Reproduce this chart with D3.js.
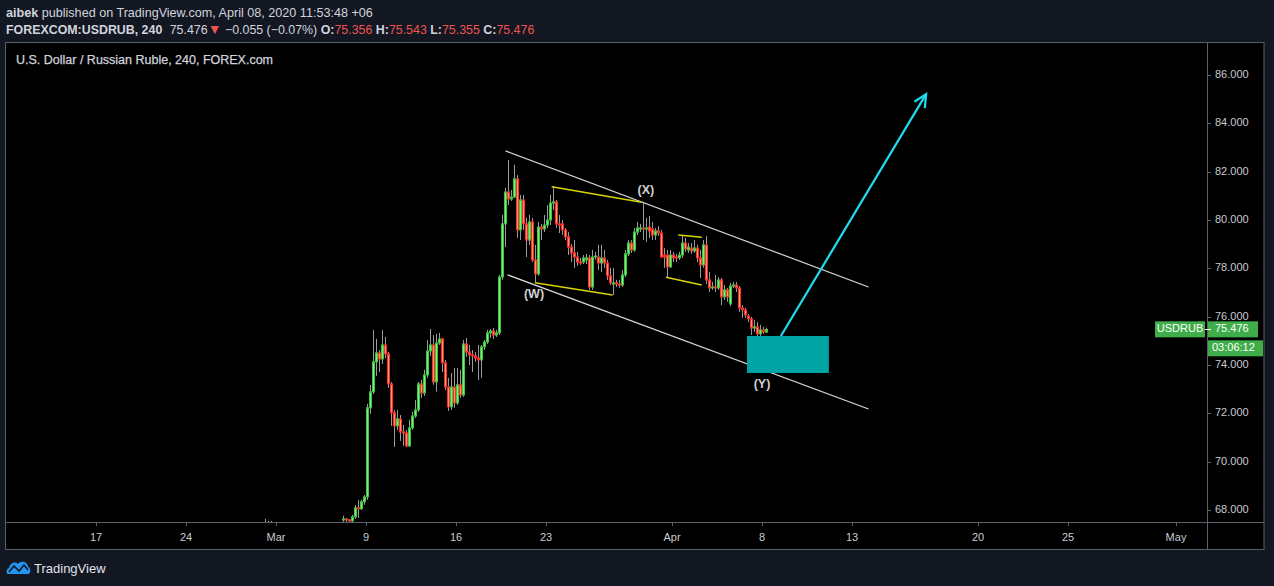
<!DOCTYPE html>
<html><head><meta charset="utf-8">
<script src="https://cdn.jsdelivr.net/npm/d3@7"></script>
<style>
html,body{margin:0;padding:0;background:#131722;overflow:hidden;}
svg{display:block;}
</style></head><body>
<svg id="c" width="1274" height="586"></svg>
<script>
// ---------- data ----------
const tickLabels = ["17","24","Mar","9","16","23","Apr","8","13","20","25","May"];
const tickBars   = [0,30,60,90,120,150,192,222,252,294,324,360];
const priceTicks = [68,70,72,74,76,78,80,82,84,86];
const barIdx = [56,57,58].concat(d3.range(82,224));
const open = [67.30,67.35,67.30,
67.59,67.63,67.59,67.55,67.72,68.09,68.05,68.34,68.54,72.23,72.89,74.13,74.50,74.25,74.83,74.46,73.22,72.02,71.48,71.77,71.23,71.19,70.65,71.40,71.89,72.14,73.22,72.84,73.59,74.58,74.83,73.30,74.91,75.08,74.09,73.09,72.27,73.09,72.43,73.18,72.76,74.87,74.54,74.42,74.38,74.29,74.21,74.75,74.95,75.33,75.41,75.24,
75.33,77.64,79.84,81.16,80.87,80.95,81.70,79.59,80.83,79.84,79.17,79.92,78.35,77.77,79.71,79.63,79.79,80.00,80.70,80.75,79.84,79.84,79.59,79.30,78.88,78.64,78.47,78.26,78.26,78.35,
78.43,77.23,78.47,78.47,78.22,78.43,78.22,77.69,77.35,77.40,77.35,77.31,77.73,78.60,79.05,78.76,79.50,79.63,79.67,
79.63,79.71,79.63,79.38,79.55,79.46,78.55,78.55,78.06,78.55,78.47,78.43,78.55,79.05,78.76,78.84,78.72,78.84,78.43,78.14,78.97,77.52,77.19,77.23,77.19,77.52,76.82,77.11,76.53,77.27,77.31,77.19,76.36,76.28,76.03,75.91,75.53,75.58,75.29,75.45,75.356];
const high = [67.63,67.55,67.55,
67.76,67.67,67.63,67.80,68.21,68.42,68.42,68.62,72.39,73.18,75.45,75.08,74.62,75.45,75.16,74.54,73.30,72.14,72.14,71.93,71.52,71.31,71.73,72.06,72.55,73.30,73.38,73.80,75.04,75.49,75.24,75.29,75.33,75.12,74.21,73.47,73.67,73.88,73.88,73.80,75.04,75.12,74.83,74.62,74.54,74.83,74.83,75.04,75.45,75.49,75.53,75.45,
77.73,80.21,81.33,82.48,81.24,82.28,81.86,81.04,81.04,80.09,80.21,80.09,78.97,79.92,79.84,80.21,80.62,81.04,81.41,80.83,80.21,80.00,79.67,79.50,79.01,79.17,78.68,78.43,78.55,78.60,
78.55,78.76,78.68,78.97,78.97,78.76,78.35,78.02,78.02,77.52,77.52,77.93,78.76,79.17,79.17,79.67,79.92,79.84,80.75,
80.09,80.17,79.92,79.67,79.75,79.59,78.84,78.76,78.76,78.68,78.60,78.68,79.38,79.26,79.05,79.05,79.17,78.97,78.76,79.17,79.34,77.85,77.44,77.73,77.64,77.60,77.31,77.19,77.40,77.44,77.44,77.27,76.48,76.36,76.11,75.99,75.86,75.78,75.66,75.58,75.543];
const low = [67.10,67.20,67.15,
67.51,67.51,67.47,67.47,67.63,67.67,68.00,68.21,68.42,71.98,72.80,73.55,73.71,74.04,74.29,73.05,71.48,70.61,71.31,70.86,70.65,70.61,70.61,71.31,71.81,72.06,72.64,72.72,73.47,74.38,73.18,72.89,74.83,73.71,72.97,72.10,72.14,72.23,72.35,72.64,72.68,74.33,74.00,73.71,74.13,73.38,73.47,74.62,74.87,75.12,75.08,75.16,
75.24,77.52,78.88,80.62,80.79,80.91,79.26,79.17,79.59,78.47,78.97,78.26,77.40,77.69,79.17,79.50,79.67,79.79,80.42,79.67,79.46,79.38,79.17,78.55,78.26,78.02,78.10,78.14,78.18,78.18,
77.11,77.11,78.35,77.93,77.85,78.02,77.52,77.31,76.90,77.23,77.19,77.23,77.64,78.51,78.64,78.68,79.38,79.50,79.17,
79.09,79.26,79.17,79.17,79.34,78.43,78.02,77.64,78.02,78.26,78.26,78.35,78.43,78.68,78.64,78.60,78.64,78.26,77.60,78.02,77.35,77.02,77.11,77.02,77.11,76.48,76.69,76.61,76.44,77.19,77.02,76.20,75.95,75.95,75.78,75.24,75.37,75.20,75.16,75.29,75.355];
const close = [67.35,67.30,67.40,
67.63,67.59,67.55,67.72,68.09,68.05,68.34,68.54,72.23,72.89,74.13,74.50,74.25,74.83,74.46,73.22,72.02,71.48,71.77,71.23,71.19,70.65,71.40,71.89,72.14,73.22,72.84,73.59,74.58,74.83,73.30,74.91,75.08,74.09,73.09,72.27,73.09,72.43,73.18,72.76,74.87,74.54,74.42,74.38,74.29,74.21,74.75,74.95,75.33,75.41,75.24,75.33,
77.64,79.84,81.16,80.87,80.95,81.70,79.59,80.83,79.84,79.17,79.92,78.35,77.77,79.71,79.63,79.79,80.00,80.70,80.75,79.84,79.79,79.59,79.30,78.88,78.64,78.47,78.26,78.22,78.43,78.43,
77.23,78.47,78.51,78.22,78.43,78.22,77.69,77.40,77.40,77.35,77.31,77.73,78.60,79.05,78.76,79.50,79.67,79.67,79.63,
79.67,79.55,79.38,79.55,79.46,78.47,78.47,78.06,78.55,78.43,78.43,78.55,79.05,78.80,78.88,78.72,78.84,78.43,78.14,78.97,77.52,77.19,77.23,77.19,77.52,76.82,77.11,76.82,77.27,77.31,77.19,76.36,76.28,76.07,75.91,75.53,75.58,75.29,75.45,75.37,75.476];

// drawings: [bar, price]
const channelUpper = [[136.5,82.86],[257.5,77.23]];
const channelLower = [[137.2,77.73],[257.5,72.18]];
const yellowLines = [
  [[151.9,81.38],[181.9,80.73]],
  [[146.3,77.40],[172.2,76.90]],
  [[194.1,79.38],[201.9,79.29]],
  [[190.0,77.63],[201.9,77.31]]
];
const waveLabels = ["(W)","(X)","(Y)"];
const waveBars   = [146,183.3,222];
const wavePrices = [76.90,81.20,73.18];
const targetBox  = [[217,75.20],[244.3,73.67]];
const arrowLine  = [[228.3,75.20],[276.7,85.21]];
const lastPrice = 75.476;

// ---------- layout ----------
const svg = d3.select("#c");
const L = 6, R = 1207, T = 42, B = 522, FR = 1264, FB = 549;
const x = d3.scaleLinear().domain([-30, (R-96)/3]).range([L, R]);
const y = d3.scaleLinear().domain([68, 86]).range([510, 75]);
const font = "'Liberation Sans', Arial, sans-serif";

svg.append("rect").attr("width",1274).attr("height",586).attr("fill","#131722");
svg.append("rect").attr("x",L).attr("y",T).attr("width",FR-L).attr("height",FB-T).attr("fill","#000");

// header
const h1 = svg.append("text").attr("x",6).attr("y",17).attr("font-family",font).attr("font-size",12.6).attr("fill","#d1d4dc");
h1.append("tspan").attr("font-weight","bold").text("aibek");
h1.append("tspan").text(" published on TradingView.com, April 08, 2020 11:53:48 +06");
const h2 = svg.append("text").attr("x",6).attr("y",34).attr("font-family",font).attr("font-size",12.4).attr("fill","#d1d4dc");
h2.append("tspan").attr("font-weight","bold").text("FOREXCOM:USDRUB, 240");
h2.append("tspan").attr("dx",4).text(" 75.476");
h2.append("tspan").attr("fill","#ef5350").attr("font-size",14).text("▼");
h2.append("tspan").text(" −0.055 (−0.07%) ");
[["O:","75.356"],["H:","75.543"],["L:","75.355"],["C:","75.476"]].forEach(([k,v],i)=>{
  h2.append("tspan").attr("font-weight","bold").text((i? " ":"")+k);
  h2.append("tspan").attr("fill","#ef5350").text(v);
});

svg.append("text").attr("x",16).attr("y",64).attr("font-family",font).attr("font-size",12.5)
  .attr("fill","#d1d4dc").attr("stroke","#d1d4dc").attr("stroke-width",0.25).text("U.S. Dollar / Russian Ruble, 240, FOREX.com");

// clip
svg.append("clipPath").attr("id","plot").append("rect").attr("x",L).attr("y",T).attr("width",R-L).attr("height",B-T);
const g = svg.append("g").attr("clip-path","url(#plot)");

// candles
const bars = barIdx.map((b,i)=>({b, o:open[i], h:high[i], l:low[i], c:close[i]}));
g.selectAll("line.wick").data(bars).join("line")
  .attr("x1",d=>x(d.b)+1.5).attr("x2",d=>x(d.b)+1.5)
  .attr("y1",d=>y(d.h)).attr("y2",d=>y(d.l))
  .attr("stroke","#9a9a9a").attr("stroke-width",1);
g.selectAll("rect.body").data(bars).join("rect")
  .attr("x",d=>x(d.b)+0.5).attr("width",2)
  .attr("y",d=>Math.min(y(d.o),y(d.c)))
  .attr("height",d=>Math.max(1,Math.abs(y(d.o)-y(d.c))))
  .attr("fill",d=>d.c>=d.o?"#7cf07c":"#ff9a6a")
  .attr("stroke",d=>d.c>=d.o?"#3ec43e":"#ff2a2a").attr("stroke-width",1);

// drawings
const line = d3.line().x(d=>x(d[0])).y(d=>y(d[1]));
[channelUpper, channelLower].forEach(p=>g.append("path").attr("d",line(p)).attr("stroke","#d8d8d8").attr("stroke-width",1.2).attr("fill","none"));
yellowLines.forEach(p=>g.append("path").attr("d",line(p)).attr("stroke","#d6d600").attr("stroke-width",1.5).attr("fill","none"));
g.append("rect").attr("x",x(targetBox[0][0])).attr("y",y(targetBox[0][1]))
  .attr("width",x(targetBox[1][0])-x(targetBox[0][0])).attr("height",y(targetBox[1][1])-y(targetBox[0][1]))
  .attr("fill","#00a3a3");
g.append("path").attr("d",line(arrowLine)).attr("stroke","#1fdcf0").attr("stroke-width",2.2).attr("fill","none");
{
  const x0=x(arrowLine[0][0]), y0=y(arrowLine[0][1]), x1=x(arrowLine[1][0]), y1=y(arrowLine[1][1]);
  const a = Math.atan2(y1-y0, x1-x0), len=14, sp=0.45;
  const p1=[x1-len*Math.cos(a-sp), y1-len*Math.sin(a-sp)], p2=[x1-len*Math.cos(a+sp), y1-len*Math.sin(a+sp)];
  g.append("path").attr("d",`M${p1}L${x1},${y1}L${p2}`).attr("stroke","#1fdcf0").attr("stroke-width",2.2).attr("fill","none");
}
g.selectAll("text.wave").data(waveLabels).join("text")
  .attr("x",(d,i)=>x(waveBars[i])).attr("y",(d,i)=>y(wavePrices[i]))
  .attr("text-anchor","middle").attr("dominant-baseline","middle")
  .attr("font-family",font).attr("font-size",12.5).attr("font-weight","bold").attr("fill","#d0d0d0").text(d=>d);

// frame
const fc = "#5d606b";
svg.append("rect").attr("x",L-0.5).attr("y",T+0.5).attr("width",FR-L+0.5).attr("height",FB-T).attr("fill","none").attr("stroke",fc);
svg.append("line").attr("x1",R+0.5).attr("x2",R+0.5).attr("y1",T).attr("y2",FB).attr("stroke",fc);
svg.append("line").attr("x1",L).attr("x2",FR).attr("y1",B+0.5).attr("y2",B+0.5).attr("stroke",fc);

// time axis
const tx = svg.append("g");
tickBars.forEach((b,i)=>{
  tx.append("line").attr("x1",x(b)+0.5).attr("x2",x(b)+0.5).attr("y1",B).attr("y2",B+4).attr("stroke",fc);
  tx.append("text").attr("x",x(b)).attr("y",541).attr("text-anchor","middle")
    .attr("font-family",font).attr("font-size",11).attr("fill","#c8cad0").text(tickLabels[i]);
});
// price axis
priceTicks.forEach(p=>{
  svg.append("line").attr("x1",R).attr("x2",R+4).attr("y1",Math.round(y(p))+0.5).attr("y2",Math.round(y(p))+0.5).attr("stroke",fc);
  svg.append("text").attr("x",1215).attr("y",y(p)).attr("dominant-baseline","middle")
    .attr("font-family",font).attr("font-size",11).attr("fill","#c8cad0").text(d3.format(".3f")(p));
});

// last price labels
const yl = y(lastPrice);
const green = "#3ead4a";
svg.append("rect").attr("x",1155).attr("y",yl-8).attr("width",50).attr("height",16).attr("fill",green);
svg.append("text").attr("x",1180).attr("y",yl).attr("text-anchor","middle").attr("dominant-baseline","middle")
  .attr("font-family",font).attr("font-size",11).attr("fill","#fff").text("USDRUB");
svg.append("rect").attr("x",1208).attr("y",yl-8).attr("width",50).attr("height",16).attr("fill",green);
svg.append("line").attr("x1",1205).attr("x2",1211).attr("y1",Math.round(yl)+0.5).attr("y2",Math.round(yl)+0.5).attr("stroke","#fff");
svg.append("text").attr("x",1215).attr("y",yl).attr("dominant-baseline","middle")
  .attr("font-family",font).attr("font-size",11).attr("fill","#fff").text(d3.format(".3f")(lastPrice));
svg.append("rect").attr("x",1208).attr("y",yl+11).attr("width",55).attr("height",16).attr("fill",green);
svg.append("text").attr("x",1212).attr("y",yl+19).attr("dominant-baseline","middle")
  .attr("font-family",font).attr("font-size",11).attr("fill","#fff").text("03:06:12");

// logo
const lg = svg.append("g").attr("transform","translate(6,560)");
lg.append("path").attr("d","M2,14 C0,14 0,9 3,8 C4,3 9,1 12,4 C15,0 22,2 22,7 C25,7 25,14 22,14 Z").attr("fill","#2196f3");
lg.append("path").attr("d","M3,12 L8,6 L13,11 L18,5 L22,10").attr("stroke","#131722").attr("stroke-width",1.6).attr("fill","none");
svg.append("text").attr("x",34).attr("y",573).attr("font-family",font).attr("font-size",13).attr("fill","#e0e3eb").text("TradingView");
</script>
</body></html>
